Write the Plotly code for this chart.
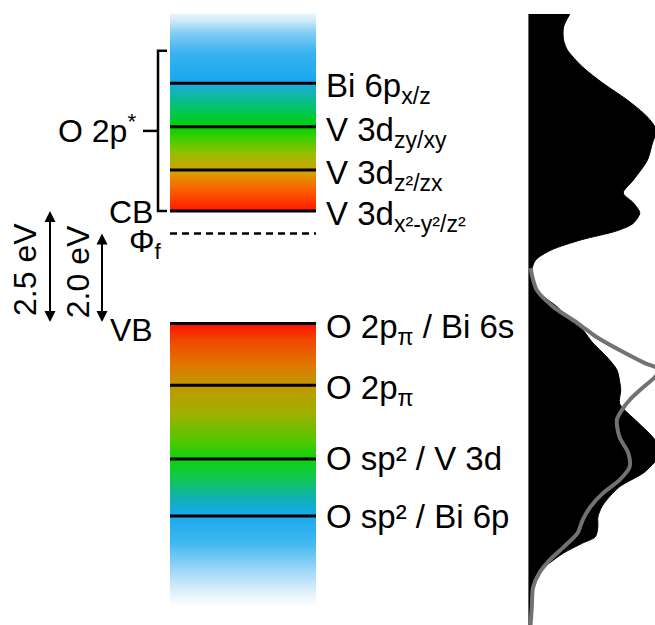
import numpy as np
import plotly.graph_objects as go

# ---- energy levels (eV, valence-band maximum = 0) ----
band_gap = 2.5
fermi_level = 2.0
cb_top = 6.88
vb_bottom = -6.25
bracket_top = 6.06

cb_levels = [2.5, 3.41, 4.37, 5.34]
cb_labels = ["V 3d<sub>x²-y²/z²</sub>", "V 3d<sub>z²/zx</sub>",
             "V 3d<sub>zy/xy</sub>", "Bi 6p<sub>x/z</sub>"]
vb_levels = [0.0, -1.37, -3.01, -4.28]
vb_labels = ["O 2p<sub>π</sub> / Bi 6s", "O 2p<sub>π</sub>",
             "O sp² / V 3d", "O sp² / Bi 6p"]

# ---- density of states (arbitrary units) ----
dos_total_e = [6.88, 6.59, 6.30, 6.08, 5.70, 5.34, 4.97, 4.59, 4.30, 4.01,
               3.63, 3.19, 2.90, 2.68, 2.46, 2.23, 2.06, 1.86, 1.63, 1.41,
               1.19, 0.97, 0.68, 0.37, 0.08, -0.14, -0.43, -0.74, -1.03, -1.26,
               -1.48, -1.77, -1.92, -2.21, -2.59, -2.92, -3.19, -3.32, -3.63, -3.92,
               -4.08, -4.30, -4.52, -4.74, -4.88, -5.10, -5.32, -5.48, -5.70, -5.99,
               -6.70]
dos_total = [0.33, 0.28, 0.28, 0.31, 0.43, 0.59, 0.78, 0.94, 1.01, 0.98,
             0.94, 0.83, 0.75, 0.83, 0.88, 0.83, 0.70, 0.42, 0.18, 0.06,
             0.03, 0.04, 0.09, 0.23, 0.33, 0.43, 0.51, 0.62, 0.70, 0.72,
             0.73, 0.72, 0.76, 0.87, 1.00, 1.04, 0.96, 0.91, 0.72, 0.62,
             0.58, 0.55, 0.55, 0.53, 0.43, 0.28, 0.17, 0.09, 0.06, 0.03,
             0.02]
dos_partial_e = [1.23, 0.97, 0.74, 0.37, 0.01, -0.30, -0.59, -0.88, -1.03, -1.19,
                 -1.41, -1.70, -1.92, -2.14, -2.52, -2.88, -3.19, -3.48, -3.77, -4.08,
                 -4.37, -4.66, -4.97, -5.26, -5.54, -5.86, -6.30, -6.70]
dos_partial = [0.02, 0.04, 0.07, 0.20, 0.39, 0.54, 0.72, 0.92, 1.04, 1.00,
               0.91, 0.80, 0.74, 0.70, 0.72, 0.79, 0.80, 0.72, 0.59, 0.49,
               0.43, 0.39, 0.28, 0.17, 0.09, 0.04, 0.03, 0.02]

FONT = "Liberation Sans, Arial, sans-serif"
FS_RIGHT = 33
FS_LEFT = 32

W, H = 655, 625
PX_PER_EV = 45.0
E_AT_TOP = 323.5 / PX_PER_EV
E_AT_BOTTOM = E_AT_TOP - H / PX_PER_EV

BAR_X0, BAR_X1 = 170, 316
DOS_X0 = 528

cb_scale = [[0.0, "#FF1500"], [0.05, "#FF3800"], [0.12, "#F86800"],
            [0.20, "#D8A000"], [0.30, "#90C000"], [0.38, "#30D000"],
            [0.43, "#00D000"], [0.50, "#00C850"], [0.58, "#10B8A0"],
            [0.66, "#18A8F0"], [0.80, "#38B2F0"], [0.90, "#80CCF4"],
            [0.97, "#D0ECF8"], [1.0, "#E8F5FB"]]
vb_scale = [[0.0, "#FF1000"], [0.06, "#F04800"], [0.15, "#E07800"],
            [0.22, "#C09800"], [0.32, "#A0B000"], [0.42, "#50C800"],
            [0.48, "#10D010"], [0.55, "#10C850"], [0.62, "#10B0B0"],
            [0.68, "#18A8F0"], [0.78, "#40B8F0"], [0.88, "#A0D8F6"],
            [0.95, "#DCEFFA"], [1.0, "#FCFDFE"]]

fig = go.Figure()

bar_cols = [BAR_X0 + (BAR_X1 - BAR_X0) * 0.25, BAR_X0 + (BAR_X1 - BAR_X0) * 0.75]

# conduction band gradient
e_cb = np.linspace(band_gap, cb_top, 400)
t_cb = (e_cb - band_gap) / (cb_top - band_gap)
fig.add_trace(go.Heatmap(x=bar_cols, y=e_cb, z=np.column_stack([t_cb, t_cb]),
                         colorscale=cb_scale, zmin=0, zmax=1, showscale=False,
                         hoverinfo="skip"))
# valence band gradient
e_vb = np.linspace(vb_bottom, 0.0, 400)
t_vb = (0.0 - e_vb) / (0.0 - vb_bottom)
fig.add_trace(go.Heatmap(x=bar_cols, y=e_vb, z=np.column_stack([t_vb, t_vb]),
                         colorscale=vb_scale, zmin=0, zmax=1, showscale=False,
                         hoverinfo="skip"))

# level lines
for e in cb_levels + vb_levels:
    fig.add_trace(go.Scatter(x=[BAR_X0, BAR_X1], y=[e, e], mode="lines",
                             line=dict(color="black", width=3), hoverinfo="skip"))
# Fermi level
fig.add_trace(go.Scatter(x=[BAR_X0, BAR_X1], y=[fermi_level, fermi_level], mode="lines",
                         line=dict(color="black", width=2.5, dash="7px,5px"),
                         hoverinfo="skip"))

# bracket around conduction-band states
mid = (bracket_top + band_gap) / 2
fig.add_trace(go.Scatter(x=[167, 158, 158, 167], y=[bracket_top, bracket_top, band_gap, band_gap],
                         mode="lines", line=dict(color="black", width=2.5), hoverinfo="skip"))
fig.add_trace(go.Scatter(x=[158, 143], y=[mid, mid], mode="lines",
                         line=dict(color="black", width=2.5), hoverinfo="skip"))

# density of states panel
fig.add_trace(go.Scatter(x=dos_total, y=dos_total_e, xaxis="x2", yaxis="y",
                         mode="lines", fill="tozerox", fillcolor="black",
                         line=dict(color="black", width=1, shape="spline", smoothing=0.8),
                         hoverinfo="skip"))
fig.add_trace(go.Scatter(x=dos_partial, y=dos_partial_e, xaxis="x2", yaxis="y",
                         mode="lines",
                         line=dict(color="#727272", width=4, shape="spline", smoothing=0.8),
                         hoverinfo="skip"))
fig.add_trace(go.Scatter(x=[0, 0], y=[cb_top, E_AT_BOTTOM], xaxis="x2", yaxis="y",
                         mode="lines", line=dict(color="#888888", width=1.5),
                         hoverinfo="skip"))

ann = []
for e, lab in zip(cb_levels + vb_levels, cb_labels + vb_labels):
    has_sub = "<sub>" in lab
    ann.append(dict(x=324, y=e, xref="x", yref="y", text=lab, showarrow=False,
                    xanchor="left", yanchor="middle", yshift=-5 if has_sub else 0,
                    font=dict(family=FONT, size=FS_RIGHT, color="black")))

n_levels = len(ann)
ann += [
    dict(x=138, y=mid, text="O 2p<sup>*</sup>", xanchor="right", yanchor="middle", yshift=2),
    dict(x=155, y=band_gap, text="CB", xanchor="right", yanchor="middle", yshift=-1),
    dict(x=155, y=0.0, text="VB", xanchor="right", yanchor="middle", yshift=-6),
    dict(x=164, y=fermi_level, text="Φ<sub>f</sub>", xanchor="right", yanchor="middle", yshift=-10),
    dict(x=25, y=1.19, text="2.5 eV", textangle=-90, xanchor="center", yanchor="middle"),
    dict(x=78, y=1.14, text="2.0 eV", textangle=-90, xanchor="center", yanchor="middle"),
]
for a in ann[n_levels:]:
    a.update(xref="x", yref="y", showarrow=False,
             font=dict(family=FONT, size=FS_LEFT, color="black"))

# gap arrows
for xa, e_hi in [(50, band_gap), (102, fermi_level)]:
    ann.append(dict(x=xa, y=e_hi, ax=xa, ay=0.0, xref="x", yref="y", axref="x", ayref="y",
                    text="", showarrow=True, arrowhead=2, arrowside="end+start",
                    arrowsize=1.1, arrowwidth=2, arrowcolor="black", standoff=0,
                    startstandoff=0))

fig.update_layout(
    width=W, height=H, margin=dict(l=0, r=0, t=0, b=0),
    paper_bgcolor="white", plot_bgcolor="white", showlegend=False,
    xaxis=dict(range=[0, W], domain=[0, 1], visible=False, fixedrange=True),
    xaxis2=dict(range=[0, 1.0], domain=[DOS_X0 / W, 1], anchor="y", visible=False,
                fixedrange=True),
    yaxis=dict(range=[E_AT_BOTTOM, E_AT_TOP], domain=[0, 1], visible=False,
               fixedrange=True),
    annotations=ann,
)

fig.write_html("out.html")
